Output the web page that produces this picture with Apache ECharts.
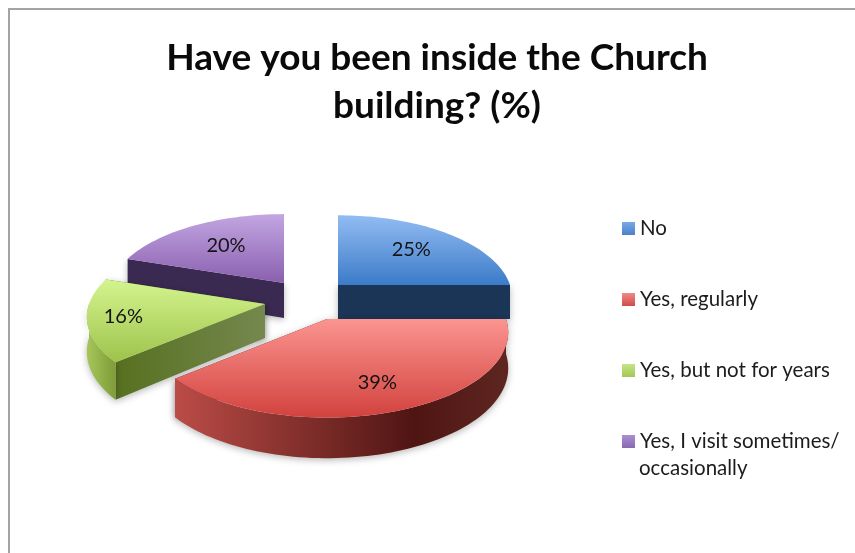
<!DOCTYPE html>
<html>
<head>
<meta charset="utf-8">
<style>html,body{margin:0;padding:0;background:#fff}#c{width:855px;height:553px}</style>
<script src="https://cdn.jsdelivr.net/npm/echarts@6/dist/echarts.min.js"></script>
</head>
<body>
<div id="c"></div>
<script>
const categories = ['No', 'Yes, regularly', 'Yes, but not for years', 'Yes, I visit sometimes/ occasionally'];
const values = [25, 39, 16, 20];
const titleText = 'Have you been inside the Church\nbuilding? (%)';

// ---- layout and styling of the tilted pie ----
const FONT = 'Lato, "Noto Sans", sans-serif';
const PERSPECTIVE = 0.16;
const sliceLayout = [
  {cx: 338, cy: 285, rx: 172, ry: 83, depth: 34, labelR: 0.65},
  {cx: 327, cy: 319, rx: 179, ry: 85, depth: 35, labelR: 0.72},
  {cx: 265, cy: 304, rx: 176, ry: 83, depth: 34, labelR: 0.80},
  {cx: 284, cy: 283, rx: 173, ry: 82, depth: 35, labelR: 0.62}
];
const linear = (x, y, x2, y2, stops) => ({type: 'linear', x, y, x2, y2,
  colorStops: stops.map((c, i) => ({offset: stops.length > 1 ? i / (stops.length - 1) : 0, color: c}))});
const sliceStyle = [
  {top: linear(0,0,0,1,['#92bcf3','#3c7bc8']), wall: '#1a3556', arc: '#1a3556', key: linear(0,0,0,1,['#7aa9e6','#4a82c8'])},
  {top: linear(0,0,0,1,['#fb9490','#d2423e']), wall: '#5a1c19',
   arc: {type:'linear',x:0,y:0,x2:1,y2:0,colorStops:[{offset:0,color:'#bb4c47'},{offset:0.72,color:'#4f1513'},{offset:1,color:'#5e2621'}]},
   key: linear(0,0,0,1,['#ee8a87','#cf4c48'])},
  {top: linear(0,0,0,1,['#d4f48e','#9dc34b']), wall: linear(0,0,1,0,['#56701f','#75884f']),
   arc: linear(0,0,1,0,['#a6c65a','#7f9c38']), key: linear(0,0,0,1,['#c6e487','#a3c754'])},
  {top: linear(0,0,0,1,['#c2a6e2','#8a5fae']), wall: '#3a2950', arc: '#3a2950', key: linear(0,0,0,1,['#ab8fd2','#8a67b2'])}
];
const drawOrder = [3, 0, 2, 1];

const total = values.reduce((a, b) => a + b, 0);
const starts = values.map((_, i) => values.slice(0, i).reduce((a, b) => a + b, 0) / total * Math.PI * 2);

function project(l, a, r, h) {
  const w = 1 + PERSPECTIVE * (-Math.cos(a)) * r;
  return [l.cx + l.rx * Math.sin(a) * r * w, l.cy + l.ry * (-Math.cos(a)) * r * w + h * l.depth * w];
}
function arcPts(l, a0, a1, h) {
  const pts = [], n = Math.max(2, Math.ceil(Math.abs(a1 - a0) / 0.03));
  for (let i = 0; i <= n; i++) pts.push(project(l, a0 + (a1 - a0) * i / n, 1, h));
  return pts;
}
const shade = {shadowBlur: 7, shadowColor: 'rgba(0,0,0,0.28)', shadowOffsetY: 2};

function renderSlice(i) {
  return function (params, api) {
    const l = sliceLayout[i], st = sliceStyle[i], a0 = starts[i];
    const a1 = a0 + api.value(0) / total * Math.PI * 2;
    const poly = (points, fill, extra) => ({type: 'polygon', shape: {points},
      style: Object.assign({fill: fill}, extra || {})});
    const children = [];
    const apexT = project(l, 0, 0, 0), apexB = project(l, 0, 0, 1);
    [a0, a1].sort((p, q) => (-Math.cos(p)) - (-Math.cos(q))).forEach(a => {
      children.push(poly([apexT, project(l, a, 1, 0), project(l, a, 1, 1), apexB], st.wall, shade));
    });
    const f0 = Math.max(a0, Math.PI / 2), f1 = Math.min(a1, Math.PI * 1.5);
    if (f1 > f0) {
      children.push(poly(arcPts(l, f0, f1, 0).concat(arcPts(l, f1, f0, 1)), st.arc, shade));
    }
    children.push(poly([apexT].concat(arcPts(l, a0, a1, 0)), st.top));
    const mid = (a0 + a1) / 2, p = project(l, mid, l.labelR, 0);
    children.push({type: 'text', style: {x: p[0] + (i === 1 ? 2 : 0), y: p[1],
      text: Math.round(api.value(0)) + '%', fill: '#141414',
      font: '20px ' + FONT, align: 'center', verticalAlign: 'middle'}});
    return {type: 'group', children};
  };
}

const chart = echarts.init(document.getElementById('c'), null, {renderer: 'canvas'});
chart.setOption({
  animation: false,
  backgroundColor: '#ffffff',
  title: {text: titleText, left: 432, top: 29, textAlign: 'center',
    textStyle: {fontFamily: FONT, fontWeight: 'bold', fontSize: 37, lineHeight: 48, color: '#0a0a0a'}},
  legend: {
    orient: 'vertical', left: 622, top: 218, padding: 0, itemWidth: 13, itemHeight: 13, itemGap: 50, selectedMode: false,
    icon: 'rect',
    textStyle: {fontFamily: FONT, fontSize: 20.5, color: '#1c1c1c'},
    formatter: name => name.split(' occasionally')[0],
    data: categories.map((name, i) => ({name, itemStyle: {color: sliceStyle[i].key}}))
  },
  graphic: [
    {type: 'rect', shape: {x: 8, y: 8, width: 2, height: 545}, style: {fill: '#a3a3a3'}, silent: true},
    {type: 'rect', shape: {x: 8, y: 8, width: 847, height: 2}, style: {fill: '#a3a3a3'}, silent: true},
    {type: 'text', left: 639, top: 458, silent: true,
     style: {text: 'occasionally', font: '20.5px ' + FONT, fill: '#1c1c1c'}}
  ],
  series: drawOrder.map((i, k) => ({
    type: 'custom', name: categories[i], coordinateSystem: 'none', z: 2 + k,
    itemStyle: {color: '#888'}, silent: true,
    renderItem: renderSlice(i), data: [[values[i]]]
  }))
});
</script>
</body>
</html>
